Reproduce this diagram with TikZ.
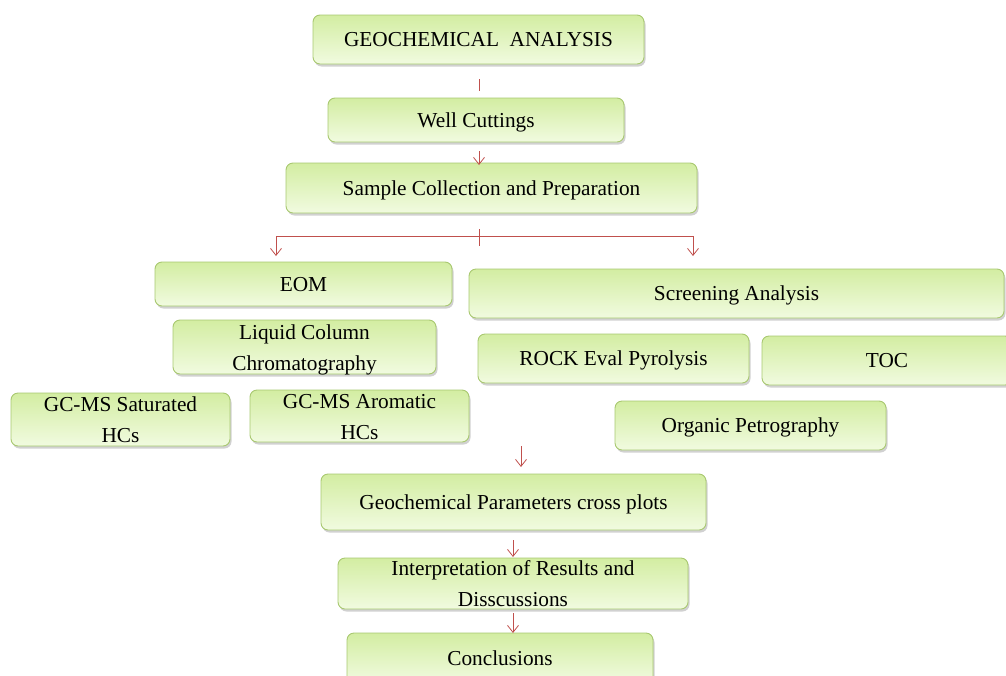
\documentclass[tikz,border=0pt]{standalone}
\usepackage{fontspec}
\setmainfont{Liberation Serif}
\usetikzlibrary{shadows,arrows.meta}
\definecolor{boxtop}{HTML}{D3EDA2}
\definecolor{boxbot}{HTML}{F1FBE0}
\definecolor{boxline}{HTML}{A8C870}
\definecolor{arr}{HTML}{C0504D}
\tikzset{
  box/.style={draw=boxline, line width=0.9pt, rounded corners=7pt,
    top color=boxtop, bottom color=boxbot, inner sep=0pt, align=center,
    font=\fontsize{21.3}{31}\selectfont,
    execute at begin node={\rule[-5pt]{0pt}{24pt}},
    execute at end node={\rule[-5pt]{0pt}{5pt}},
    drop shadow={shadow xshift=1.5pt, shadow yshift=-2.5pt, opacity=0.3, fill=black!60}},
  twoline/.style={text height=47pt, text depth=1pt},
  conn/.style={draw=arr, line width=0.8pt},
  arrw/.style={conn, -{Straight Barb[length=7pt,width=11pt,line width=0.8pt]}}
}
\begin{document}
\begin{tikzpicture}[x=1pt,y=-1pt]
\useasboundingbox (0,0) rectangle (1006,675);
\node[box, minimum width=331pt, minimum height=49pt] (ga) at (478.5,39.5) {GEOCHEMICAL\ \ ANALYSIS};
\node[box, minimum width=296pt, minimum height=44pt] (wc) at (476,120) {Well Cuttings};
\node[box, minimum width=411pt, minimum height=50pt] (sc) at (491.5,188) {Sample Collection and Preparation};
\node[box, minimum width=297pt, minimum height=44pt] (eom) at (303.5,284) {EOM};
\node[box, minimum width=535pt, minimum height=49pt] (sa) at (736.5,293.5) {Screening Analysis};
\node[box, twoline, minimum width=263pt, minimum height=54pt] (lcc) at (304.5,347) {Liquid Column\\Chromatography};
\node[box, twoline, minimum width=219pt, minimum height=53pt] (gcs) at (120.5,419.5) {GC-MS Saturated\\HCs};
\node[box, twoline, minimum width=219pt, minimum height=52pt] (gca) at (359.5,416) {GC-MS Aromatic\\HCs};
\node[box, minimum width=271pt, minimum height=49pt] (rock) at (613.5,358.5) {ROCK Eval Pyrolysis};
\node[box, minimum width=250pt, minimum height=49pt] (toc) at (887,360.5) {TOC};
\node[box, minimum width=271pt, minimum height=49pt] (op) at (750.5,425.5) {Organic Petrography};
\node[box, minimum width=385pt, minimum height=56pt] (gp) at (513.5,502) {Geochemical Parameters cross plots};
\node[box, twoline, minimum width=350pt, minimum height=51pt] (ir) at (513,583.5) {Interpretation of Results and\\Disscussions};
\node[box, minimum width=306pt, minimum height=50pt] (cc) at (500,658) {Conclusions};
% connectors
\coordinate (t1a) at (479,79);
\coordinate (t1b) at (479,91);
\draw[conn] (t1a) -- (t1b);
\draw[arrw] (479,151) -- (479,165);
\coordinate (br) at (479,236);
\draw[conn] (479,229) -- (479,246);
\draw[arrw] (br) -| (276,256);
\draw[arrw] (br) -| (693,256);
\draw[arrw] (521,446) -- (521,467);
\draw[arrw] (513,540) -- (513,557);
\draw[arrw] (513,613) -- (513,633);
\end{tikzpicture}
\end{document}
